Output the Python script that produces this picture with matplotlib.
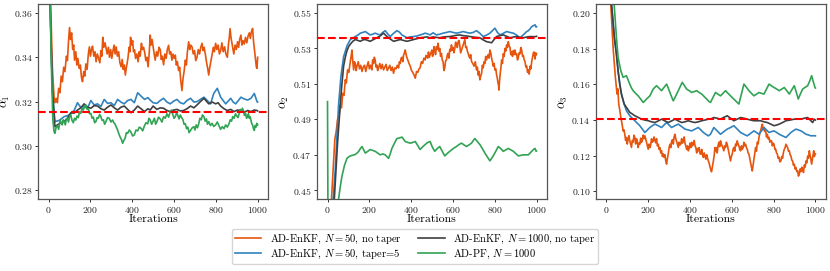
import matplotlib
matplotlib.use("Agg")
import matplotlib.pyplot as plt

plt.rcParams['font.family'] = 'serif'
plt.rcParams['font.serif'] = ['cmr10']
plt.rcParams['mathtext.fontset'] = 'cm'
plt.rcParams['axes.formatter.use_mathtext'] = True

# (iteration, value)
p1_orange = [(0, .40), (8, .37), (18, .335), (26, .322), (30, .3195), (36, .3215), (42, .3195), (48, .326),
             (54, .324), (60, .3315), (66, .329), (72, .3355), (78, .3335), (85, .3405), (90, .3385), (95, .347),
             (100, .3534), (105, .348), (110, .351), (115, .3435), (120, .3455), (124, .3387), (130, .3425),
             (135, .3365), (140, .3395), (146, .335), (152, .3365), (157, .331), (162, .329), (168, .3335),
             (173, .3315), (178, .337), (184, .3345), (190, .3415), (195, .3447), (200, .3405), (205, .3435),
             (210, .345), (216, .3405), (222, .3425), (227, .338), (233, .3415), (239, .3395), (245, .3375),
             (250, .343), (255, .3405), (259, .349), (264, .3445), (270, .3465), (275, .344), (280, .3415),
             (286, .3445), (291, .340), (297, .3435), (302, .3395), (308, .343), (313, .3455), (318, .3415),
             (323, .3447), (329, .3405), (335, .3425), (341, .3375), (347, .3357), (352, .339), (357, .3345),
             (362, .3365), (367, .332), (372, .3355), (376, .3375), (380, .340), (385, .3445), (389, .3425),
             (392, .349), (397, .3455), (402, .3475), (406, .3425), (411, .3434), (416, .3395), (422, .3415),
             (428, .338), (433, .3425), (438, .3405), (444, .3463), (449, .3435), (454, .3445), (460, .342),
             (465, .3385), (470, .340), (476, .3357), (481, .3415), (486, .350), (490, .3455), (495, .348),
             (500, .3447), (505, .3415), (510, .3387), (516, .3425), (522, .3405), (528, .3445), (534, .3434),
             (539, .339), (544, .3405), (550, .3366), (556, .3415), (562, .3395), (568, .3435), (574, .3454),
             (579, .3415), (584, .3425), (590, .3387), (595, .3415), (600, .3395), (606, .341), (611, .3365),
             (616, .338), (622, .334), (627, .3355), (632, .3295), (638, .325), (643, .3305), (648, .3335),
             (654, .3387), (659, .3365), (664, .3425), (670, .347), (675, .3435), (680, .3455), (686, .3447),
             (692, .3415), (698, .343), (704, .3385), (710, .340), (716, .3435), (722, .3415), (728, .3445),
             (734, .3463), (739, .343), (744, .3445), (750, .3412), (755, .338), (760, .3355), (766, .332),
             (771, .3355), (777, .3385), (783, .3417), (788, .3445), (793, .3425), (799, .3463), (805, .3435),
             (811, .3455), (817, .3415), (823, .343), (829, .3465), (835, .3425), (842, .3447), (848, .3415),
             (855, .340), (860, .3455), (864, .3485), (868, .3529), (873, .3485), (877, .3465), (880, .3447),
             (886, .3415), (892, .3455), (898, .3435), (904, .347), (909, .3445), (914, .348), (920, .350),
             (925, .3455), (930, .3475), (936, .346), (942, .349), (948, .3465), (954, .3495), (960, .351),
             (965, .3485), (970, .3515), (976, .353), (980, .3475), (984, .344), (987, .341), (991, .3375),
             (994, .3355), (997, .335), (1000, .340)]
p1_blue = [(0, .40), (8, .36), (18, .325), (30, .311), (50, .3115), (74, .3132), (100, .314), (122, .316),
           (138, .3195), (155, .3172), (170, .318), (185, .3168), (202, .3205), (218, .3185), (234, .319),
           (250, .3178), (266, .321), (282, .3192), (298, .3195), (314, .3182), (330, .321), (346, .3198),
           (362, .319), (378, .3205), (394, .321), (410, .3195), (426, .324), (442, .3225), (459, .321),
           (475, .3218), (486, .3207), (500, .3195), (518, .3192), (534, .3205), (550, .3215), (566, .3198),
           (582, .319), (598, .3202), (614, .321), (630, .3195), (646, .319), (662, .3205), (679, .3215),
           (695, .3198), (710, .320), (726, .321), (743, .322), (759, .3205), (775, .319), (790, .3237),
           (807, .326), (823, .322), (835, .3205), (847, .319), (859, .3202), (871, .3215), (883, .3198),
           (895, .319), (908, .3205), (920, .322), (936, .3212), (952, .3207), (968, .3215), (984, .3237),
           (997, .320), (1000, .3198)]
p1_gray = [(0, .40), (8, .36), (18, .325), (30, .3087), (50, .310), (74, .311), (90, .3125), (106, .315),
           (122, .3148), (138, .3162), (154, .3172), (170, .319), (186, .3175), (202, .317), (218, .3182),
           (234, .318), (250, .3168), (266, .3162), (282, .3175), (298, .3185), (314, .3172), (330, .3162),
           (346, .3175), (362, .318), (378, .3165), (394, .315), (410, .3162), (426, .318), (442, .3168),
           (459, .3155), (475, .3168), (486, .3162), (500, .318), (518, .3165), (534, .3172), (550, .317),
           (566, .316), (582, .3155), (598, .3162), (614, .3165), (630, .3158), (646, .316), (662, .3168),
           (679, .318), (695, .3172), (710, .3185), (726, .320), (743, .3215), (755, .3202), (766, .319),
           (783, .3198), (799, .319), (811, .3195), (823, .318), (839, .3168), (855, .316), (871, .3165),
           (887, .3155), (903, .3162), (920, .316), (936, .3152), (952, .316), (968, .3155), (984, .3162),
           (997, .316), (1000, .3158)]
p1_green = [(0, .42), (5, .38), (12, .34), (20, .312), (26, .3065), (30, .3057), (36, .3085), (42, .309),
            (48, .3075), (55, .3117), (60, .3105), (65, .3095), (70, .3118), (74, .311), (80, .3095), (85, .3122),
            (90, .3125), (95, .3108), (100, .3132), (106, .314), (112, .3115), (118, .3105), (124, .3125),
            (130, .3117), (136, .3135), (142, .3128), (148, .3155), (154, .3147), (160, .317), (166, .3162),
            (172, .3178), (178, .3185), (184, .3165), (190, .3168), (196, .3145), (202, .3147), (208, .3125),
            (214, .313), (220, .3105), (226, .311), (232, .3128), (238, .3125), (244, .3142), (250, .3132),
            (256, .3115), (262, .3118), (268, .3098), (274, .311), (282, .3128), (290, .3125), (298, .3108),
            (306, .3117), (312, .3105), (318, .3098), (324, .3085), (330, .3072), (336, .3055), (342, .304),
            (348, .303), (354, .3012), (360, .3025), (366, .3035), (372, .306), (378, .3057), (386, .3072),
            (394, .3062), (402, .3045), (410, .305), (418, .3072), (426, .3068), (434, .3085), (442, .308),
            (450, .3068), (458, .309), (466, .3105), (474, .310), (480, .3125), (486, .3117), (493, .3098),
            (500, .3112), (506, .3125), (512, .3098), (518, .311), (526, .313), (534, .3122), (542, .3108),
            (550, .3132), (558, .3125), (566, .3145), (574, .313), (582, .3155), (588, .3162), (594, .3142),
            (600, .3125), (606, .3132), (612, .315), (618, .3138), (624, .3122), (630, .314), (636, .3128),
            (642, .312), (648, .3098), (654, .310), (660, .3078), (666, .3085), (672, .306), (679, .307),
            (687, .3082), (695, .3087), (700, .3072), (706, .3095), (712, .3082), (718, .310), (724, .3125),
            (730, .3118), (736, .314), (743, .3132), (749, .3112), (755, .3122), (760, .3098), (766, .311),
            (774, .3092), (782, .3102), (790, .3088), (799, .3095), (807, .3108), (815, .3092), (823, .3075),
            (831, .3087), (839, .3078), (847, .3095), (855, .3085), (863, .310), (869, .3118), (875, .3112),
            (881, .3132), (887, .3125), (894, .3145), (900, .3135), (906, .3128), (912, .3147), (917, .3165),
            (922, .3152), (927, .317), (932, .316), (937, .3138), (942, .3148), (947, .3125), (952, .3132),
            (956, .3145), (960, .3125), (964, .3132), (968, .3117), (972, .310), (976, .3095), (980, .3078),
            (984, .307), (988, .3092), (992, .3085), (996, .3102), (1000, .3095)]

p2_orange = [(0, .40), (19, .445), (35, .4788), (42, .4835), (48, .490), (55, .4915), (61, .4982), (67, .4965),
             (73, .5047), (79, .5035), (85, .5123), (90, .5105), (96, .5179), (102, .5165), (109, .5226),
             (113, .5255), (117, .5291), (121, .5225), (125, .5179), (129, .5225), (133, .521), (137, .5175),
             (141, .520), (147, .5225), (153, .5185), (159, .5205), (165, .517), (171, .5195), (177, .5205),
             (183, .517), (189, .520), (195, .5225), (200, .5185), (206, .5205), (212, .5179), (216, .5235),
             (220, .5215), (224, .525), (228, .5235), (232, .5195), (236, .5205), (240, .5175), (244, .519),
             (250, .5215), (256, .5185), (262, .521), (268, .5179), (274, .5195), (280, .521), (286, .5175),
             (292, .519), (298, .5205), (304, .5175), (310, .5195), (316, .516), (322, .519), (328, .5185),
             (334, .5205), (340, .519), (344, .5225), (348, .5215), (352, .5245), (356, .525), (360, .5225),
             (364, .5262), (368, .5275), (372, .5291), (378, .5255), (384, .5235), (390, .5215), (396, .520),
             (402, .5175), (408, .5165), (414, .515), (420, .5132), (426, .517), (432, .5165), (438, .5185),
             (443, .519), (449, .5225), (455, .5215), (461, .5245), (467, .5235), (471, .526), (475, .5255),
             (479, .5245), (483, .528), (487, .525), (491, .5265), (495, .5275), (499, .5291), (502, .5255),
             (505, .5262), (509, .531), (513, .5291), (517, .5265), (521, .531), (525, .5295), (529, .5329),
             (533, .5285), (537, .530), (541, .5255), (545, .5272), (549, .5235), (553, .5225), (557, .5175),
             (561, .519), (565, .523), (569, .5235), (573, .5262), (577, .5272), (581, .5245), (585, .5295),
             (589, .5285), (593, .532), (597, .529), (601, .5305), (605, .5275), (609, .530), (613, .5335),
             (617, .5322), (621, .5305), (625, .5338), (629, .5345), (633, .5315), (637, .5275), (641, .5291),
             (645, .5305), (649, .532), (653, .5335), (657, .535), (661, .5305), (665, .531), (669, .5285),
             (673, .5272), (677, .5255), (681, .5245), (685, .5265), (689, .5226), (695, .5215), (701, .520),
             (707, .5225), (713, .5179), (717, .5195), (721, .515), (725, .517), (729, .5123), (733, .5145),
             (737, .5158), (741, .5205), (745, .519), (749, .5225), (753, .5215), (757, .5255), (761, .5235),
             (765, .5255), (769, .5265), (773, .5245), (777, .5291), (781, .5275), (785, .5245), (789, .5225),
             (793, .520), (797, .5215), (801, .5178), (805, .5185), (809, .5151), (812, .5135), (815, .511),
             (818, .5095), (820, .5065), (823, .5115), (826, .5155), (830, .5195), (833, .5235), (837, .5215),
             (841, .527), (845, .5255), (849, .530), (853, .5285), (857, .532), (861, .5305), (865, .5338),
             (869, .5315), (873, .5305), (877, .5265), (881, .528), (885, .5255), (889, .5288), (893, .5265),
             (897, .5291), (901, .5265), (905, .527), (909, .5235), (913, .525), (917, .5275), (921, .527),
             (925, .5305), (929, .5291), (933, .5255), (937, .526), (941, .5235), (945, .5226), (949, .5195),
             (953, .520), (957, .5165), (961, .5179), (965, .5155), (969, .520), (973, .5185), (977, .5226),
             (980, .5245), (982, .5255), (985, .5275), (988, .528), (991, .5255), (993, .524), (996, .5275),
             (998, .5263), (1000, .527)]
p2_blue = [(0, .40), (20, .43), (27, .445), (37, .4616), (45, .4803), (53, .4982), (64, .514), (77, .5253),
           (93, .5314), (109, .535), (121, .5358), (133, .5367), (145, .5375), (157, .5386), (169, .539),
           (181, .5395), (193, .5385), (204, .5376), (216, .538), (228, .5386), (240, .538), (252, .5376),
           (264, .539), (276, .540), (288, .5382), (300, .5367), (316, .5385), (332, .540), (344, .5392),
           (356, .5376), (368, .5368), (380, .536), (396, .5365), (412, .5367), (428, .537), (443, .5376),
           (455, .538), (467, .5386), (479, .5382), (491, .5376), (505, .5388), (521, .5376), (537, .538),
           (553, .5386), (569, .539), (585, .5395), (601, .539), (617, .5386), (633, .539), (649, .5395),
           (665, .539), (681, .5386), (697, .539), (713, .540), (729, .5385), (745, .5367), (761, .5375),
           (777, .5386), (789, .540), (801, .5414), (813, .539), (825, .5376), (841, .5385), (857, .5395),
           (873, .539), (889, .5386), (905, .5375), (921, .536), (933, .5372), (945, .5386), (953, .5395),
           (961, .540), (969, .541), (977, .5423), (985, .5428), (993, .5433), (998, .542), (1000, .5422)]
p2_gray = [(0, .40), (20, .425), (30, .44), (37, .4541), (48, .4766), (61, .4982), (69, .510), (77, .520),
           (85, .525), (93, .5286), (101, .531), (109, .5324), (121, .534), (133, .535), (145, .5345),
           (157, .534), (169, .5348), (181, .535), (193, .5345), (204, .534), (220, .535), (236, .536),
           (252, .537), (268, .5386), (280, .5372), (292, .536), (304, .535), (316, .534), (332, .5345),
           (348, .535), (364, .5345), (380, .534), (396, .5345), (412, .535), (428, .5355), (443, .536),
           (459, .5362), (475, .5365), (491, .536), (505, .5365), (521, .5362), (537, .536), (553, .5364),
           (569, .5366), (585, .5367), (601, .537), (617, .5374), (633, .5376), (649, .5372), (665, .537),
           (681, .5367), (697, .5364), (713, .5362), (729, .536), (745, .5348), (761, .5338), (773, .5335),
           (785, .5332), (797, .535), (809, .5367), (825, .5372), (841, .5376), (857, .5368), (873, .536),
           (889, .5364), (905, .5367), (921, .5362), (937, .536), (953, .5364), (969, .5367), (985, .5366),
           (998, .5367), (1000, .5368)]
p2_green = [(0, .50), (2, .44), (5, .40), (20, .41), (40, .432), (53, .445), (61, .452), (69, .4579),
            (81, .464), (93, .468), (101, .4688), (109, .4694), (121, .4698), (133, .4702), (141, .471),
            (149, .4719), (157, .4735), (165, .4747), (173, .4728), (181, .471), (193, .472), (204, .473),
            (216, .4725), (228, .472), (240, .471), (252, .470), (264, .4705), (276, .470), (284, .469),
            (292, .468), (300, .4705), (308, .4736), (320, .4765), (332, .4792), (344, .4795), (356, .480),
            (364, .4788), (372, .4775), (384, .477), (396, .4766), (408, .477), (420, .4775), (432, .4752),
            (443, .473), (455, .4745), (467, .4758), (479, .477), (491, .4775), (501, .4745), (513, .472),
            (525, .4735), (537, .4747), (549, .472), (561, .4694), (573, .4708), (585, .472), (601, .4735),
            (617, .4747), (629, .4758), (641, .4766), (653, .4756), (665, .4747), (677, .4756), (689, .4766),
            (697, .478), (705, .4792), (717, .4775), (729, .4758), (741, .4735), (753, .471), (765, .4688),
            (777, .4666), (785, .468), (793, .4694), (805, .472), (817, .4747), (829, .4735), (841, .472),
            (853, .4728), (865, .4736), (877, .4728), (889, .472), (901, .4707), (913, .4694), (925, .4697),
            (937, .470), (949, .470), (961, .470), (969, .471), (977, .472), (985, .473), (993, .4736),
            (998, .472), (1000, .4722)]

p3_orange = [(0, .30), (21, .2052), (32, .1809), (43, .164), (51, .1546), (55, .1575), (59, .149), (64, .1455),
             (69, .1416), (74, .1385), (80, .1339), (84, .1345), (88, .132), (92, .1285), (96, .1302), (100, .1265),
             (104, .1295), (108, .1312), (112, .1283), (116, .1265), (120, .1246), (124, .1285), (128, .1275),
             (132, .1315), (136, .1302), (140, .1265), (144, .1295), (148, .128), (152, .1245), (156, .127),
             (160, .1264), (164, .1298), (168, .1275), (172, .1288), (176, .1315), (180, .1295), (184, .1311),
             (188, .1295), (192, .1275), (196, .1255), (200, .1236), (204, .1265), (208, .1245), (212, .126),
             (216, .1295), (220, .1275), (224, .1283), (228, .1305), (232, .1285), (236, .1272), (240, .1295),
             (244, .1255), (248, .1264), (252, .1235), (256, .1245), (260, .1215), (264, .1227), (268, .1195),
             (272, .121), (276, .119), (280, .1205), (284, .117), (288, .1152), (292, .1185), (296, .121),
             (300, .1245), (304, .1264), (308, .1245), (312, .128), (316, .129), (320, .1265), (324, .1305),
             (328, .132), (332, .1295), (336, .128), (340, .1262), (344, .1246), (348, .1275), (352, .126),
             (356, .1265), (360, .1295), (364, .127), (368, .1283), (372, .1305), (376, .127), (380, .1255),
             (384, .1235), (388, .1255), (392, .1227), (396, .124), (400, .127), (404, .1245), (408, .1275),
             (412, .1255), (416, .1264), (420, .1285), (424, .1255), (428, .1245), (432, .1215), (436, .124),
             (440, .1227), (444, .1245), (448, .121), (452, .1208), (456, .1235), (460, .1205), (464, .119),
             (468, .1215), (472, .1195), (476, .118), (480, .1205), (484, .1185), (488, .117), (492, .1155),
             (496, .1135), (500, .1118), (503, .1109), (507, .1135), (512, .117), (516, .1205), (519, .1245),
             (522, .1227), (526, .1245), (530, .1215), (534, .1255), (538, .1275), (542, .125), (546, .1283),
             (550, .1265), (554, .1255), (558, .124), (562, .1227), (566, .1255), (570, .1245), (574, .1275),
             (578, .1264), (582, .124), (586, .1218), (590, .1195), (594, .117), (598, .1195), (602, .1208),
             (606, .1235), (610, .1246), (614, .1225), (618, .1265), (622, .1255), (626, .1283), (630, .1265),
             (634, .1255), (638, .1235), (642, .1227), (646, .1255), (650, .1235), (654, .1245), (658, .1275),
             (662, .1255), (666, .1264), (670, .1245), (674, .1236), (678, .1215), (682, .1208), (686, .1185),
             (690, .116), (694, .1135), (698, .1114), (702, .1145), (706, .118), (710, .1215), (714, .1246),
             (718, .1225), (722, .1275), (726, .1265), (730, .1302), (734, .1325), (738, .134), (742, .136),
             (746, .1377), (750, .1345), (754, .1358), (758, .1335), (762, .1339), (766, .1305), (770, .132),
             (774, .1295), (778, .1302), (782, .1275), (786, .1285), (790, .1283), (794, .1255), (798, .127),
             (802, .1264), (806, .1235), (810, .1236), (814, .1215), (818, .1208), (822, .1185), (826, .119),
             (830, .1165), (835, .117), (839, .1195), (843, .1185), (847, .1218), (851, .1235), (855, .1245),
             (859, .1264), (863, .1255), (867, .1245), (871, .1225), (875, .1227), (879, .1205), (883, .1198),
             (887, .1175), (891, .117), (895, .1145), (899, .1152), (903, .1125), (907, .1133), (911, .111),
             (915, .1115), (919, .1085), (923, .1096), (927, .1125), (931, .111), (935, .1135), (939, .1124),
             (943, .1105), (947, .1147), (951, .1135), (955, .117), (959, .116), (963, .1198), (967, .1185),
             (971, .1227), (974, .1205), (977, .119), (980, .1165), (982, .1152), (985, .1175), (987, .119),
             (990, .1215), (992, .1227), (995, .1195), (998, .1208), (1000, .121)]
p3_blue = [(0, .30), (25, .2052), (38, .186), (48, .1771), (56, .1677), (64, .1602), (72, .1546), (85, .149),
           (96, .1452), (104, .1438), (112, .1424), (124, .141), (136, .1396), (148, .1382), (160, .1368),
           (172, .1349), (184, .133), (196, .1344), (208, .1358), (220, .1368), (232, .1377), (248, .1368),
           (264, .1358), (276, .1372), (288, .1386), (300, .1372), (312, .1358), (328, .1368), (344, .1377),
           (360, .1363), (376, .1349), (392, .1344), (408, .1339), (424, .1349), (440, .1358), (452, .1344),
           (464, .133), (476, .132), (488, .1311), (498, .132), (514, .1358), (530, .1339), (546, .132),
           (562, .1335), (578, .1349), (594, .1358), (610, .1368), (626, .1349), (642, .133), (658, .132),
           (674, .1311), (690, .1325), (706, .1339), (718, .133), (730, .132), (742, .1339), (754, .1358),
           (766, .1344), (778, .133), (790, .1335), (802, .1339), (815, .133), (827, .132), (843, .1311),
           (859, .1302), (871, .1316), (883, .133), (895, .134), (907, .1349), (919, .1344), (931, .1339),
           (943, .133), (955, .132), (967, .1316), (979, .1311), (990, .1312), (1000, .1311)]
p3_gray = [(0, .30), (24, .2052), (38, .187), (48, .1771), (56, .1677), (64, .1602), (72, .1546), (85, .149),
           (96, .1471), (104, .1457), (112, .1443), (124, .1434), (136, .1424), (152, .1415), (168, .1405),
           (184, .140), (200, .1396), (216, .139), (232, .1386), (248, .1395), (264, .1405), (280, .1395),
           (296, .1386), (312, .1395), (328, .1405), (344, .1395), (360, .1386), (376, .139), (392, .1396),
           (408, .139), (424, .1386), (440, .139), (456, .1396), (472, .140), (488, .1405), (498, .1405),
           (514, .1414), (530, .141), (546, .1405), (562, .1415), (578, .1424), (594, .141), (610, .1396),
           (626, .1405), (642, .1414), (658, .141), (674, .1405), (690, .140), (706, .1396), (722, .1396),
           (738, .1396), (754, .139), (770, .1386), (786, .1377), (802, .1368), (815, .1372), (827, .1377),
           (843, .1386), (859, .1396), (879, .140), (899, .1405), (915, .1405), (931, .1405), (947, .141),
           (963, .1414), (975, .140), (987, .1386), (995, .1405), (1000, .140)]
p3_green = [(0, .32), (37, .2052), (48, .1865), (56, .1752), (69, .1677), (80, .164), (88, .1645), (96, .1649),
            (104, .1625), (112, .1602), (120, .158), (128, .1565), (140, .155), (152, .1536), (164, .1518),
            (176, .1499), (184, .1508), (192, .1518), (200, .1527), (208, .1536), (216, .1555), (224, .1574),
            (232, .1584), (240, .1593), (252, .1579), (264, .1565), (276, .1584), (288, .1602), (296, .158),
            (304, .1555), (312, .153), (320, .1508), (332, .1536), (344, .1565), (354, .159), (363, .1612),
            (374, .1592), (384, .1574), (396, .1565), (408, .1555), (420, .156), (432, .1565), (444, .1555),
            (456, .1546), (468, .1532), (480, .1518), (490, .1505), (498, .1499), (510, .1527), (522, .1555),
            (534, .1545), (546, .1536), (558, .155), (570, .1565), (582, .155), (594, .1536), (606, .1522),
            (618, .1508), (626, .1499), (634, .149), (646, .1546), (658, .1602), (670, .1584), (682, .1565),
            (694, .155), (706, .1536), (718, .1545), (730, .1555), (742, .155), (754, .1546), (766, .1574),
            (778, .1602), (790, .1592), (802, .1583), (815, .1574), (827, .1565), (839, .1574), (851, .1583),
            (863, .1565), (875, .1546), (887, .157), (899, .1593), (909, .1555), (918, .1518), (928, .1546),
            (939, .1574), (951, .1584), (963, .1593), (973, .162), (982, .1649), (990, .1615), (998, .1583),
            (1000, .158)]

true_vals = [0.3155, 0.5357, 0.1408]
ylims = [(0.276, 0.364), (0.445, 0.555), (0.0955, 0.2052)]
yticks = [[0.28, 0.30, 0.32, 0.34, 0.36], [0.45, 0.47, 0.49, 0.51, 0.53, 0.55],
          [0.10, 0.12, 0.14, 0.16, 0.18, 0.20]]
ylabels = [r'$\alpha_1$', r'$\alpha_2$', r'$\alpha_3$']

labels = [r'AD-EnKF, $N=50$, no taper', r'AD-EnKF, $N=50$, taper=5',
          r'AD-EnKF, $N=1000$, no taper', r'AD-PF, $N=1000$']
colors = ['#e6550d', '#3182bd', '#404040', '#31a354']

panels = [[p1_orange, p1_blue, p1_gray, p1_green],
          [p2_orange, p2_blue, p2_gray, p2_green],
          [p3_orange, p3_blue, p3_gray, p3_green]]

fig = plt.figure(figsize=(8.3, 2.71), dpi=100)
lefts = [0.046, 0.382, 0.718]
handles = []
for k in range(3):
    ax = fig.add_axes([lefts[k], 0.265, 0.277, 0.72])
    for s, series in enumerate(panels[k]):
        xs = [p[0] for p in series]
        ys = [p[1] for p in series]
        h, = ax.plot(xs, ys, color=colors[s], lw=1.2, label=labels[s])
        if k == 0:
            handles.append(h)
    ax.axhline(true_vals[k], color='red', ls='--', lw=1.5, zorder=5)
    ax.set_xlim(-50, 1050)
    ax.set_ylim(*ylims[k])
    ax.set_yticks(yticks[k])
    ax.set_xticks([0, 200, 400, 600, 800, 1000])
    ax.tick_params(labelsize=7, length=2.5, width=0.7, pad=1.5, colors='#333333', labelcolor='#222222')
    ax.set_xlabel('Iterations', fontsize=8.5, labelpad=0)
    ax.set_ylabel(ylabels[k], fontsize=9, labelpad=1)
    for sp in ax.spines.values():
        sp.set_color('#555555')
        sp.set_linewidth(0.9)

fig.legend(handles, labels, loc='lower center', bbox_to_anchor=(0.5, 0.005), ncol=2,
           fontsize=7.6, frameon=True, columnspacing=1.6, handlelength=2.5,
           labelspacing=0.2, borderpad=0.3, handletextpad=0.8)

plt.savefig('out.png', dpi=100)
